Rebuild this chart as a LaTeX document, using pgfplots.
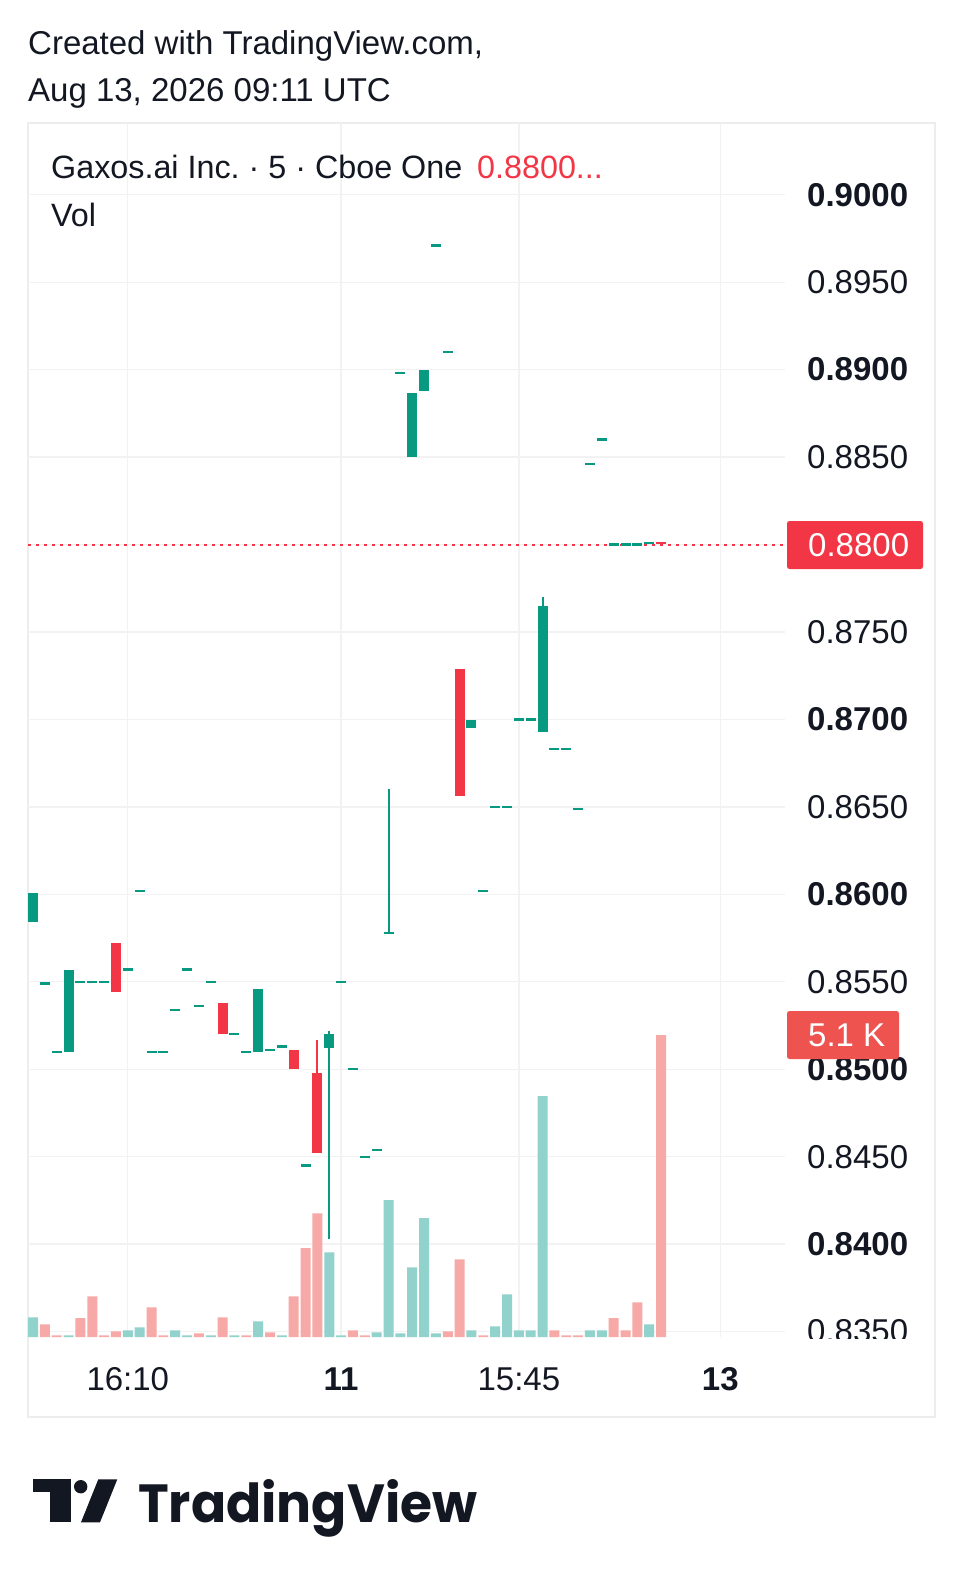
\documentclass[border=0pt]{standalone}
\usepackage{fontspec}
\setmainfont{Liberation Sans}
\newfontfamily\logofont{Poppins}
\usepackage{graphicx}
\usepackage{pgfplots}
\pgfplotsset{compat=1.18}
\usepackage{pgfplotstable}
\definecolor{tvgreen}{HTML}{089981}
\definecolor{tvred}{HTML}{F23645}
\definecolor{volgreen}{HTML}{92D2CC}
\definecolor{volred}{HTML}{F7A9A7}
\definecolor{gridcol}{HTML}{F2F2F3}
\definecolor{framecol}{HTML}{EDEDEE}
\definecolor{tvtext}{HTML}{131722}
\definecolor{vollabel}{HTML}{EF5350}
\newcommand\tvfont{\fontsize{33}{40}\selectfont}

% candles with a body: k open close
\pgfplotstableread{
k o c
0 0.8584 0.8601
3 0.8510 0.8557
19 0.8510 0.8546
25 0.8512 0.8520
32 0.8850 0.8887
33 0.8888 0.8900
37 0.8695 0.8700
43 0.8693 0.8765
}\greenbodies
\pgfplotstableread{
k o c
7 0.8572 0.8544
16 0.8538 0.8520
22 0.8511 0.8500
24 0.8498 0.8452
36 0.8729 0.8656
}\redbodies
% wicks: k high low
\pgfplotstableread{
k h l
25 0.8522 0.8403
30 0.8660 0.8578
43 0.8770 0.8765
}\greenwicks
\pgfplotstableread{
k h l
24 0.8517 0.8498
53 0.88010 0.87995
}\redwicks
% flat candles (open = close): k price
\pgfplotstableread{
k p
1 0.8549
2 0.8510
4 0.8550
5 0.8550
6 0.8550
8 0.8557
9 0.8602
10 0.8510
11 0.8510
12 0.8534
13 0.8557
14 0.8536
15 0.8550
17 0.8520
18 0.8510
20 0.8511
21 0.8513
23 0.8445
26 0.8550
27 0.8500
28 0.8450
29 0.8454
30 0.8578
31 0.8898
34 0.8971
35 0.8910
38 0.8602
39 0.8650
40 0.8650
41 0.8700
42 0.8700
44 0.8683
45 0.8683
46 0.8649
47 0.8846
48 0.8860
49 0.8800
50 0.8800
51 0.8800
52 0.8801
}\greenflat
\pgfplotstableread{
k p
53 0.88010
}\redflat
% volume
\pgfplotstableread{
k v
0 333
3 28
8 113
9 164
12 113
13 28
15 28
17 28
19 265
21 28
25 1430
26 28
29 79
30 2310
31 62
32 1178
33 2006
34 62
37 113
39 181
40 722
41 113
42 113
43 4068
47 113
48 113
52 215
}\volG
\pgfplotstableread{
k v
1 215
2 28
4 317
5 688
6 28
7 96
10 502
11 28
14 62
16 333
18 28
20 79
22 688
23 1500
24 2090
27 113
28 28
35 96
36 1313
38 28
44 113
45 28
46 28
49 317
50 113
51 587
53 5100
}\volR

\pgfplotsset{tvaxis/.style={at={(28pt,-1337pt)}, anchor=south west, scale only axis,
  width=757pt, height=1214pt, xmin=-0.42194, xmax=63.4599}}

\begin{document}
\frenchspacing
\begin{tikzpicture}[x=1pt,y=1pt]
\path[use as bounding box] (0,0) rectangle (964,-1587);
\fill[white] (0,0) rectangle (964,-1587);
\draw[framecol, line width=1.3pt] (28,-123) rectangle (935,-1417);

% grid and scales
\begin{axis}[tvaxis, ymin=0.8346884, ymax=0.9040995,
  axis line style={draw=none}, major tick length=0pt, tick style={draw=none},
  xtick={8,26,41,58}, xticklabels={16:10,\textbf{11},15:45,\textbf{13}},
  ytick={0.835,0.84,0.845,0.85,0.855,0.86,0.865,0.87,0.875,0.88,0.885,0.89,0.895,0.9},
  yticklabels={0.8350,\textbf{0.8400},0.8450,\textbf{0.8500},0.8550,\textbf{0.8600},0.8650,\textbf{0.8700},0.8750,0.8800,0.8850,\textbf{0.8900},0.8950,\textbf{0.9000}},
  yticklabel pos=right,
  grid=major, major grid style={draw=gridcol, line width=1.3pt},
  yticklabel style={font=\tvfont, text=tvtext, anchor=west, inner sep=0pt, xshift=22pt},
  xticklabel style={font=\tvfont, text=tvtext, anchor=base, inner sep=0pt, yshift=-53pt},
  clip=false]
\addplot[draw=none, forget plot] coordinates {(0,0.86)};
\end{axis}

% volume
\begin{axis}[tvaxis, ymin=0, ymax=20501, hide axis]
\addplot[ybar, bar width=10pt, bar shift=0pt, fill=volgreen, draw=none] table[x=k,y=v] {\volG};
\addplot[ybar, bar width=10pt, bar shift=0pt, fill=volred, draw=none] table[x=k,y=v] {\volR};
\end{axis}

% candles
\begin{axis}[tvaxis, ymin=0.8346884, ymax=0.9040995, hide axis]
\addplot[draw=none, mark=none, error bars/.cd, y dir=both, y explicit,
  error mark=none, error bar style={draw=tvgreen, solid, line width=2pt, line cap=butt}]
  table[x=k, y expr={(\thisrow{h}+\thisrow{l})/2}, y error expr={(\thisrow{h}-\thisrow{l})/2}] {\greenwicks};
\addplot[draw=none, mark=none, error bars/.cd, y dir=both, y explicit,
  error mark=none, error bar style={draw=tvred, solid, line width=2pt, line cap=butt}]
  table[x=k, y expr={(\thisrow{h}+\thisrow{l})/2}, y error expr={(\thisrow{h}-\thisrow{l})/2}] {\redwicks};
\addplot[draw=none, mark=none, error bars/.cd, y dir=both, y explicit,
  error mark=none, error bar style={draw=tvgreen, solid, line width=10pt, line cap=butt}]
  table[x=k, y expr={(\thisrow{o}+\thisrow{c})/2}, y error expr={abs(\thisrow{c}-\thisrow{o})/2}] {\greenbodies};
\addplot[draw=none, mark=none, error bars/.cd, y dir=both, y explicit,
  error mark=none, error bar style={draw=tvred, solid, line width=10pt, line cap=butt}]
  table[x=k, y expr={(\thisrow{o}+\thisrow{c})/2}, y error expr={abs(\thisrow{c}-\thisrow{o})/2}] {\redbodies};
\addplot[only marks, mark=-, mark size=5pt, mark options={draw=tvgreen, line width=2.2pt, solid}] table[x=k,y=p] {\greenflat};
\addplot[only marks, mark=-, mark size=5pt, mark options={draw=tvred, line width=2.2pt, solid}] table[x=k,y=p] {\redflat};
\addplot[tvred, line width=2pt, dash pattern=on 2.5pt off 5.5pt] coordinates {(-0.42194,0.88) (63.4599,0.88)};
\end{axis}

% clip the bottom price label at the pane edge
\fill[white] (786,-1338.5) rectangle (933,-1356);

% price and volume labels
\fill[tvred, rounded corners=2.5pt] (787,-521) rectangle (923,-569);
\node[anchor=west, inner sep=0pt, text=white, font=\tvfont] at (808,-545) {0.8800};
\fill[vollabel, rounded corners=2.5pt] (787,-1011) rectangle (899,-1059);
\node[anchor=west, inner sep=0pt, text=white, font=\tvfont] at (808,-1035) {5.1 K};

% header
\node[anchor=base west, inner sep=0pt, text=tvtext, font=\tvfont] at (28,-55) {Created with TradingView.com,};
\node[anchor=base west, inner sep=0pt, text=tvtext, font=\tvfont] at (28,-101.7) {Aug 13, 2026 09:11 UTC};
\node[anchor=base west, inner sep=0pt, text=tvtext, font=\fontsize{32.3}{40}\selectfont] at (51,-178.3) {Gaxos.ai Inc.\ · 5 · Cboe One};
\node[anchor=base west, inner sep=0pt, text=tvred, font=\fontsize{32.3}{40}\selectfont] at (477,-178.3) {0.8800...};
\node[anchor=base west, inner sep=0pt, text=tvtext, font=\fontsize{32.3}{40}\selectfont] at (51,-226) {Vol};

% logo
\fill[tvtext] (33.3,-1479.3) rectangle (71,-1491.7);
\fill[tvtext] (50,-1479.3) rectangle (71,-1522.3);
\fill[tvtext] (80.7,-1486.7) circle (6.7);
\fill[tvtext] (98.3,-1479.3) -- (117.3,-1479.3) -- (100,-1522.3) -- (81,-1522.3) -- cycle;
\node[anchor=base west, inner sep=0pt, text=tvtext] at (138,-1522) {\resizebox{339pt}{43pt}{\logofont\bfseries TradingView}};
\end{tikzpicture}
\end{document}
